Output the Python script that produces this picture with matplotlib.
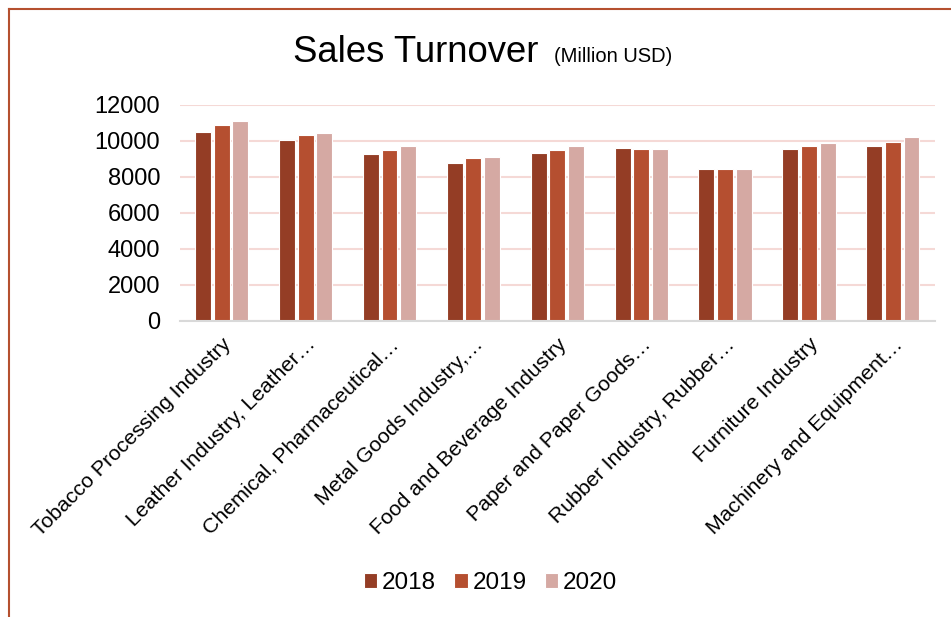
import numpy as np
import matplotlib.pyplot as plt
from matplotlib.lines import Line2D

plt.rcParams['font.family'] = ['Liberation Sans', 'DejaVu Sans']

categories = ["Tobacco Processing Industry", "Leather Industry, Leather\u2026",
              "Chemical, Pharmaceutical\u2026", "Metal Goods Industry,\u2026",
              "Food and Beverage Industry", "Paper and Paper Goods\u2026",
              "Rubber Industry, Rubber\u2026", "Furniture Industry",
              "Machinery and Equipment\u2026"]
years = ["2018", "2019", "2020"]
sales_2018 = [10500, 10040, 9280, 8760, 9350, 9610, 8410, 9540, 9720]
sales_2019 = [10870, 10330, 9500, 9060, 9480, 9540, 8460, 9720, 9960]
sales_2020 = [11110, 10440, 9690, 9090, 9740, 9570, 8440, 9910, 10190]
colors = ["#943D25", "#B54F30", "#D5A9A3"]

fig = plt.figure(figsize=(9.51, 6.17), dpi=100)
ax = fig.add_axes([0.189, 0.480, 0.794, 0.350])

x = np.arange(len(categories))
step = 0.222
for i, (vals, c) in enumerate(zip([sales_2018, sales_2019, sales_2020], colors)):
    ax.bar(x + (i - 1) * step, vals, width=0.19, color=c, edgecolor="white",
           linewidth=0.8, zorder=3, label=years[i])

ax.set_xlim(-0.5, len(categories) - 0.5)
ax.set_ylim(0, 12000)
ax.set_yticks(range(0, 12001, 2000))
ax.grid(axis="y", color="#F5D9D6", linewidth=1.5, zorder=0)
for s in ["top", "right", "left"]:
    ax.spines[s].set_visible(False)
ax.spines["bottom"].set_color("#D9D9D9")
ax.spines["bottom"].set_linewidth(1.5)
ax.spines["bottom"].set_zorder(4)
ax.tick_params(axis="both", length=0, colors="black")
ax.tick_params(axis="y", labelsize=17, pad=14)
ax.set_xticks(x)
ax.set_xticklabels(categories, rotation=45, ha="right", rotation_mode="anchor",
                   fontsize=15.3)
ax.tick_params(axis="x", pad=10)

fig.text(0.308, 0.900, "Sales Turnover", fontsize=26.3, ha="left", va="baseline")
fig.text(0.583, 0.900, "(Million USD)", fontsize=14.5, ha="left", va="baseline")

fig.legend(loc="center", bbox_to_anchor=(0.516, 0.055), ncol=3, frameon=False,
           fontsize=17.5, handlelength=0.55, handleheight=0.55, handletextpad=0.2,
           columnspacing=0.75)

# chart border (top and left)
fig.add_artist(Line2D([0.009, 1.0], [0.985, 0.985], color="#B5502F", linewidth=1.5))
fig.add_artist(Line2D([0.009, 0.009], [0.0, 0.985], color="#B5502F", linewidth=1.5))

fig.savefig("out.png", dpi=100)
